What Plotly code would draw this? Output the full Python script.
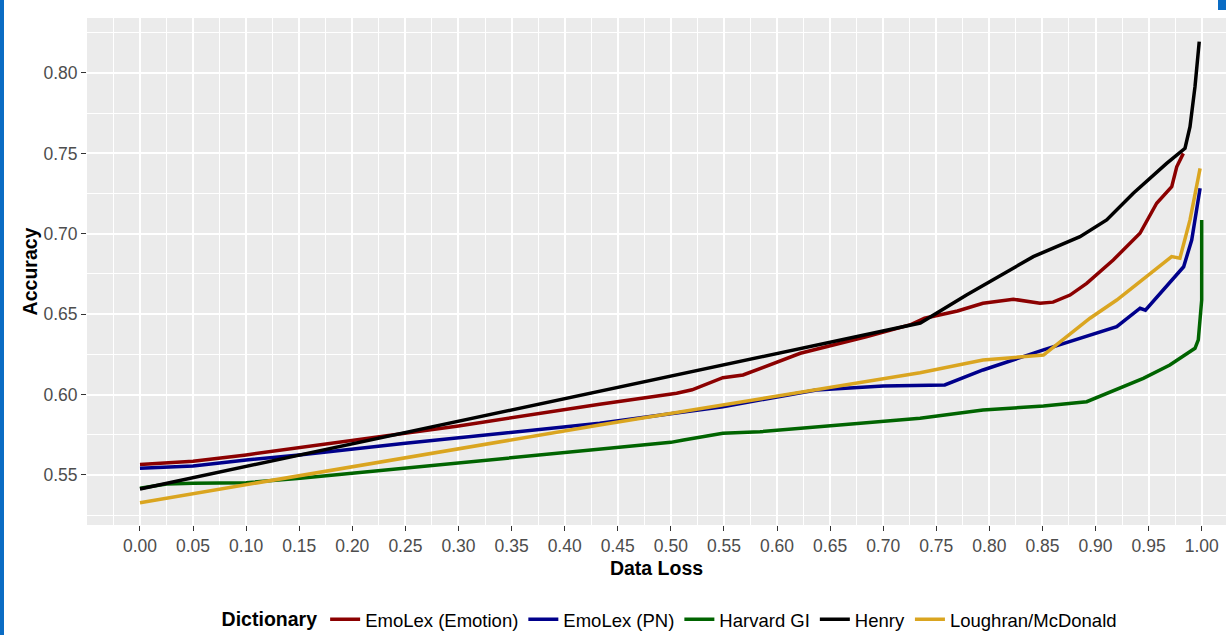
import plotly.graph_objects as go

# ---- data ----
emo_x = [0.00, 0.05, 0.10, 0.20, 0.30, 0.433, 0.5055, 0.52, 0.549, 0.568, 0.622, 0.684, 0.725, 0.739,
         0.77, 0.794, 0.8226, 0.8477, 0.86, 0.876, 0.8917, 0.9167, 0.9419, 0.9576, 0.9718, 0.9765, 0.9827]
emo_y = [0.5565, 0.5585, 0.5625, 0.5715, 0.5805, 0.594, 0.6008, 0.603, 0.6105, 0.6122, 0.6257, 0.636, 0.6433, 0.6475,
         0.652, 0.6568, 0.6593, 0.6568, 0.6575, 0.6619, 0.6692, 0.6837, 0.7003, 0.719, 0.7293, 0.7417, 0.750]

pn_x = [0.00, 0.05, 0.10, 0.15, 0.25, 0.40, 0.433, 0.549, 0.637, 0.70, 0.758, 0.794, 0.851, 0.92, 0.942,
        0.947, 0.967, 0.983, 0.9906, 0.9985]
pn_y = [0.5542, 0.5556, 0.5593, 0.5624, 0.5697, 0.5799, 0.5822, 0.5925, 0.6029, 0.6053, 0.606, 0.6153, 0.6278, 0.6422, 0.6537,
        0.6525, 0.6671, 0.6795, 0.6961, 0.7283]

hgi_x = [0.00, 0.025, 0.05, 0.10, 0.151, 0.25, 0.433, 0.50, 0.512, 0.549, 0.584, 0.7347, 0.794, 0.851, 0.8917,
         0.945, 0.970, 0.9937, 0.9968, 1.0, 1.0]
hgi_y = [0.5417, 0.5444, 0.5448, 0.5452, 0.548, 0.5543, 0.566, 0.5703, 0.5718, 0.5759, 0.5769, 0.5853, 0.5904, 0.5929, 0.5956,
         0.6101, 0.6184, 0.6288, 0.634, 0.6588, 0.7086]

henry_x = [0.00, 0.735, 0.7785, 0.8414, 0.8854, 0.9105, 0.9356, 0.967, 0.9843, 0.989, 0.9937, 0.9977]
henry_y = [0.5413, 0.6445, 0.662, 0.6858, 0.6982, 0.7086, 0.7252, 0.7438, 0.7532, 0.7666, 0.7915, 0.8195]

lm_x = [0.00, 0.433, 0.7347, 0.77, 0.794, 0.851, 0.8948, 0.92, 0.9717, 0.9795, 0.989, 0.9985]
lm_y = [0.5328, 0.5811, 0.6136, 0.6185, 0.6215, 0.6246, 0.6475, 0.6588, 0.6858, 0.6848, 0.7086, 0.7407]

series_names = ["EmoLex (Emotion)", "EmoLex (PN)", "Harvard GI", "Henry", "Loughran/McDonald"]
series_colors = ["#8B0000", "#00008B", "#006400", "#000000", "#DAA520"]

x_ticks = [round(i * 0.05, 2) for i in range(21)]
x_tick_labels = [f"{v:.2f}" for v in x_ticks]
y_ticks = [0.55, 0.60, 0.65, 0.70, 0.75, 0.80]
y_tick_labels = [f"{v:.2f}" for v in y_ticks]

FONT = "Liberation Sans, Arial, sans-serif"

fig = go.Figure()
for name, xs, ys, col in zip(series_names,
                             [emo_x, pn_x, hgi_x, henry_x, lm_x],
                             [emo_y, pn_y, hgi_y, henry_y, lm_y],
                             series_colors):
    fig.add_trace(go.Scatter(x=xs, y=ys, mode="lines", name=name,
                             line=dict(color=col, width=3.5)))

fig.update_layout(
    width=1226, height=635,
    paper_bgcolor="white", plot_bgcolor="#EBEBEB",
    margin=dict(l=87, r=0, t=18, b=110),
    font=dict(family=FONT, color="#4D4D4D", size=17),
    showlegend=True,
    legend=dict(
        orientation="h", xref="container", yref="container",
        x=0.547, xanchor="center", y=0.024, yanchor="middle",
        bgcolor="rgba(0,0,0,0)",
        font=dict(family=FONT, size=18.5, color="black"),
        title=dict(text="<b>Dictionary</b>", side="left",
                   font=dict(family=FONT, size=19.5, color="black")),
        itemwidth=30,
    ),
)

fig.update_xaxes(
    range=[-0.0499, 1.0229],
    tickvals=x_ticks, ticktext=x_tick_labels,
    ticks="outside", ticklen=5, tickcolor="#333333", tickwidth=1,
    tickfont=dict(family=FONT, size=17.5, color="#4D4D4D"),
    showgrid=True, gridcolor="white", gridwidth=1.5,
    minor=dict(dtick=0.025, tick0=0, showgrid=True, gridcolor="white", gridwidth=0.8, ticks=""),
    zeroline=False, showline=False, automargin=False,
    title=dict(text="<b>Data Loss</b>", font=dict(family=FONT, size=19.5, color="black"), standoff=6),
)
fig.update_yaxes(
    range=[0.5189, 0.8342],
    tickvals=y_ticks, ticktext=y_tick_labels,
    ticks="outside", ticklen=5, tickcolor="#333333", tickwidth=1,
    tickfont=dict(family=FONT, size=17.5, color="#4D4D4D"),
    showgrid=True, gridcolor="white", gridwidth=1.5,
    minor=dict(dtick=0.025, tick0=0.5, showgrid=True, gridcolor="white", gridwidth=0.8, ticks=""),
    zeroline=False, showline=False, automargin=False,
    title=dict(text="<b>Accuracy</b>", font=dict(family=FONT, size=19.5, color="black"), standoff=0),
)

# screenshot frame marks (blue window border pieces)
fig.add_shape(type="rect", xref="paper", yref="paper",
              x0=-87 / 1139, x1=(4 - 87) / 1139, y0=(525 - 635) / 507, y1=525 / 507,
              fillcolor="#0A6CC4", line_width=0, layer="above")
fig.add_shape(type="rect", xref="paper", yref="paper",
              x0=(1218 - 87) / 1139, x1=1.0, y0=(525 - 10) / 507, y1=525 / 507,
              fillcolor="#0A6CC4", line_width=0, layer="above")

fig.write_html("out.html",
               config={"displayModeBar": False},
               post_script="document.body.style.margin='0px';document.body.style.overflow='hidden';")
